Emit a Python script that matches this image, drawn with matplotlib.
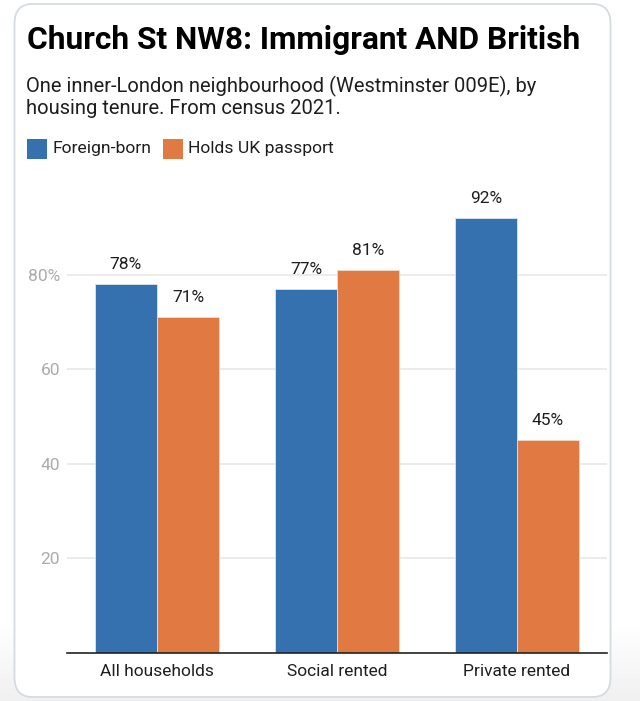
import matplotlib
matplotlib.use("Agg")
import matplotlib.pyplot as plt
from matplotlib.patches import FancyBboxPatch
import numpy as np

categories = ["All households", "Social rented", "Private rented"]
foreign_born = [78, 77, 92]
uk_passport = [71, 81, 45]
series_names = ["Foreign-born", "Holds UK passport"]
yticks = [20, 40, 60, 80]
ytick_labels = ["20", "40", "60", "80%"]

blue = "#3471ae"
orange = "#e07a42"

plt.rcParams["font.family"] = ["Roboto", "DejaVu Sans"]

W, H = 640, 701
fig = plt.figure(figsize=(6.4, 7.01), dpi=100)
fig.patch.set_facecolor("white")

# page background: white fading to light grey at the bottom
bg = fig.add_axes([0, 0, 1, 1], zorder=-10)
grad = np.ones((H, 1))
rows = np.arange(H)
grad[:, 0] = np.where(rows > 620, 1 - 0.06 * (rows - 620) / 80, 1.0)
bg.imshow(grad, cmap="gray", vmin=0, vmax=1, aspect="auto", extent=[0, 1, 0, 1])
bg.axis("off")

# card
card = FancyBboxPatch((14.5 / W, 4 / H), 596 / W, 693 / H,
                      boxstyle="round,pad=0,rounding_size=0.028",
                      transform=fig.transFigure, facecolor="white",
                      edgecolor="#d5dbe0", linewidth=1.3, zorder=-5)
fig.patches.append(card)

fig.text(27 / W, 1 - 40 / H, "Church St NW8: Immigrant AND British",
         fontsize=22.8, fontweight="bold", color="black", va="center")
fig.text(26 / W, 1 - 97 / H,
         "One inner-London neighbourhood (Westminster 009E), by\nhousing tenure. From census 2021.",
         fontsize=14.5, color="#1e1e1e", va="center", linespacing=1.1)

# legend
for name, col, x0 in zip(series_names, [blue, orange], [27, 163]):
    fig.patches.append(plt.Rectangle((x0 / W, 1 - 159 / H), 20 / W, 20 / H,
                                     transform=fig.transFigure, facecolor=col,
                                     edgecolor="none"))
    fig.text((x0 + 25) / W, 1 - 149 / H, name, fontsize=12.6,
             color="#1e1e1e", va="center")

ax = fig.add_axes([67 / W, 1 - 653 / H, 540 / W, 473 / H])
ax.set_facecolor("none")
x = np.arange(len(categories))
w = 0.345
b1 = ax.bar(x - w / 2, foreign_born, w, color=blue, edgecolor="#dbe6f1", linewidth=0.6, zorder=2)
b2 = ax.bar(x + w / 2, uk_passport, w, color=orange, edgecolor="#f3d9c8", linewidth=0.6, zorder=2)
for bars, vals in [(b1, foreign_born), (b2, uk_passport)]:
    for r, v in zip(bars, vals):
        ax.text(r.get_x() + r.get_width() / 2, v + 2.5, f"{v}%", ha="center",
                va="bottom", fontsize=12.5, color="#1e1e1e")

ax.set_xlim(-0.5, 2.5)
ax.set_ylim(0, 100)
ax.set_yticks(yticks)
ax.set_yticklabels(ytick_labels)
ax.set_xticks(x)
ax.set_xticklabels(categories)
ax.grid(axis="y", color="#e8e8e8", linewidth=1.2, zorder=0)
for s in ["top", "right", "left"]:
    ax.spines[s].set_visible(False)
ax.spines["bottom"].set_color("#222222")
ax.spines["bottom"].set_linewidth(1.2)
ax.spines["bottom"].set_zorder(3)
ax.tick_params(axis="y", length=0, labelsize=12.5, labelcolor="#ababab", pad=5)
ax.tick_params(axis="x", length=0, labelsize=12.5, labelcolor="#1e1e1e", pad=8)

fig.savefig("out.png", dpi=100, facecolor=fig.get_facecolor())
